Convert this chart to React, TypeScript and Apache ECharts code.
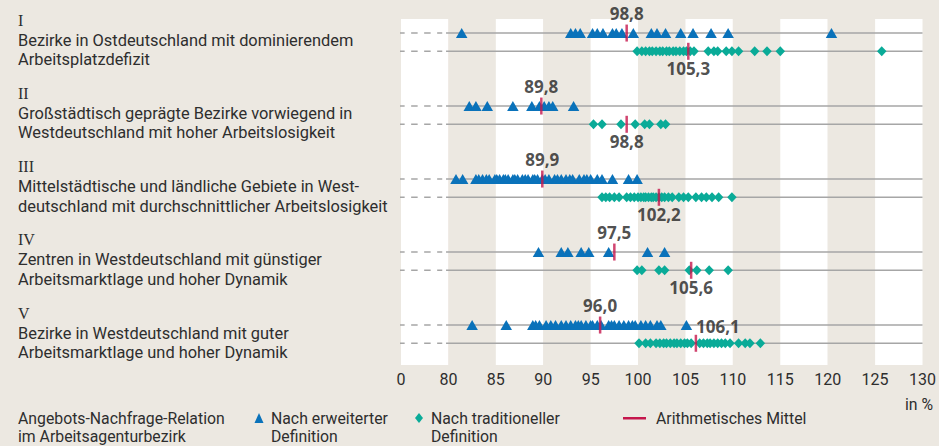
import React, { useEffect, useRef } from "react";
import * as echarts from "echarts";

// ---- data ----
const groupNumerals = ["I", "II", "III", "IV", "V"];
const groupLines = [
  ["Bezirke in Ostdeutschland mit dominierendem", "Arbeitsplatzdefizit"],
  ["Großstädtisch geprägte Bezirke vorwiegend in", "Westdeutschland mit hoher Arbeitslosigkeit"],
  ["Mittelstädtische und ländliche Gebiete in West-", "deutschland mit durchschnittlicher Arbeitslosigkeit"],
  ["Zentren in Westdeutschland mit günstiger", "Arbeitsmarktlage und hoher Dynamik"],
  ["Bezirke in Westdeutschland mit guter", "Arbeitsmarktlage und hoher Dynamik"],
];

// Nach erweiterter Definition (triangles)
const triI = [81.4, 92.9, 93.4, 93.9, 95.2, 95.7, 96.3, 97.3, 97.7, 98.3, 99.5, 101.4, 102.0, 102.9, 104.5, 105.8, 107.7, 109.5, 120.4];
const triII = [82.2, 82.9, 84.1, 86.8, 88.8, 89.6, 90.1, 90.6, 91.0, 93.2];
const triIII = [80.8, 81.5, 82.9, 83.2, 83.6, 84.0, 84.3, 84.9, 85.1, 85.4, 85.8, 86.0, 86.3, 86.8, 87.0, 87.3, 87.8, 88.1, 88.4, 88.9, 89.1, 89.4, 89.9, 90.2, 90.6, 91.2, 91.5, 91.9, 92.4, 92.8, 93.1, 93.8, 94.3, 94.6, 95.0, 95.7, 96.2, 97.3, 99.0, 99.9];
const triIV = [89.5, 91.9, 92.6, 94.0, 94.8, 96.9, 101.0, 102.8];
const triV = [82.5, 86.1, 88.9, 89.2, 89.6, 90.3, 90.8, 91.3, 91.9, 92.4, 92.9, 93.4, 93.7, 94.0, 94.5, 95.0, 95.2, 95.7, 96.1, 96.9, 97.2, 97.5, 98.0, 98.5, 99.0, 99.4, 99.7, 100.3, 100.8, 101.3, 102.0, 102.4, 105.1];

// Nach traditioneller Definition (diamonds)
const diaI = [99.9, 100.4, 100.8, 101.2, 101.5, 101.9, 102.3, 102.6, 103.0, 103.3, 103.7, 104.0, 104.4, 104.8, 105.1, 105.5, 105.9, 107.4, 108.0, 108.4, 109.3, 109.9, 110.6, 112.3, 113.6, 115.0, 125.7];
const diaII = [95.3, 96.2, 98.2, 99.7, 100.7, 101.2, 102.4, 102.9];
const diaIII = [96.2, 96.6, 97.0, 97.5, 98.0, 98.8, 99.2, 99.6, 100.0, 100.3, 100.6, 100.8, 101.1, 101.4, 101.6, 101.9, 102.2, 102.5, 102.8, 103.2, 103.6, 104.3, 104.8, 105.3, 106.1, 106.7, 107.2, 107.8, 108.5, 109.9];
const diaIV = [99.9, 100.4, 102.2, 102.8, 105.4, 106.2, 107.5, 109.5];
const diaV = [100.1, 100.8, 101.3, 101.9, 102.3, 102.7, 103.0, 103.4, 103.8, 104.1, 104.5, 104.9, 105.2, 105.6, 106.5, 106.9, 107.3, 107.6, 108.0, 108.4, 108.8, 109.2, 109.7, 110.6, 111.3, 111.8, 112.9];

// Arithmetisches Mittel
const triMeans = [98.8, 89.8, 89.9, 97.5, 96.0];
const diaMeans = [105.3, 98.8, 102.2, 105.6, 106.1];

// axis
const X_MIN = 75; // drawn as "0" (axis break)
const X_MAX = 130;
const X_STEP = 5;
const breakLabel = "0";
const unitLabel = "in %";

const legendTitle = ["Angebots-Nachfrage-Relation", "im Arbeitsagenturbezirk"];
const legendTri = ["Nach erweiterter", "Definition"];
const legendDia = ["Nach traditioneller", "Definition"];
const legendMean = "Arithmetisches Mittel";

const BG = "#ece8e1";
const TXT = "#2e2e2e";
const BLUE = "#0a72ba";
const TEAL = "#0aab98";
const RED = "#c5164c";
const GRAY = "#a6a6a6";
const FONT = "Roboto, 'Noto Sans', sans-serif";

export default function App() {
  const ref = useRef<HTMLDivElement>(null);
  useEffect(() => {
    document.body.style.margin = "0";
    const chart = echarts.init(ref.current!, undefined, { renderer: "svg" });
    const tris = [triI, triII, triIII, triIV, triV];
    const dias = [diaI, diaII, diaIII, diaIV, diaV];

    const series: any[] = [];
    for (let g = 0; g < 5; g++) {
      for (const row of [4 * g, 4 * g + 1]) {
        series.push({
          type: "line", silent: true, clip: false, symbol: "none", z: 1,
          data: [[79.75, row], [X_MAX, row]],
          lineStyle: { color: GRAY, width: 1.5 },
        });
        series.push({
          type: "line", silent: true, clip: false, symbol: "none", z: 1,
          data: [[74.7, row], [79.35, row]],
          lineStyle: { color: GRAY, width: 1.5, type: [6.5, 6.5] },
        });
      }
    }
    series.push({
      name: "Nach erweiterter Definition",
      type: "scatter", symbol: "triangle", symbolSize: [11.5, 10], z: 3,
      itemStyle: { color: BLUE, opacity: 1 },
      data: tris.flatMap((arr, g) => arr.map((v) => [v, 4 * g])),
    });
    series.push({
      name: "Nach traditioneller Definition",
      type: "scatter", symbol: "diamond", symbolSize: [9.5, 10], z: 3,
      itemStyle: { color: TEAL, opacity: 1 },
      data: dias.flatMap((arr, g) => arr.map((v) => [v, 4 * g + 1])),
    });
    const meanData: any[] = [];
    triMeans.forEach((m, g) =>
      meanData.push({ value: [m, 4 * g], label: { position: "top", distance: 3 } })
    );
    diaMeans.forEach((m, g) =>
      meanData.push({
        value: [m, 4 * g + 1],
        label: g === 4 ? { position: "top", distance: 0, offset: [22, 0] } : { position: "bottom", distance: 0 },
      })
    );
    series.push({
      name: "Arithmetisches Mittel",
      type: "scatter", symbol: "rect", symbolSize: [2.5, 17], z: 4,
      itemStyle: { color: RED },
      label: {
        show: true, color: "#222222", fontSize: 17, fontWeight: "bold",
        fontFamily: "'Noto Sans', sans-serif",
        formatter: (p: any) => p.value[0].toFixed(1).replace(".", ","),
      },
      data: meanData,
    });

    const graphic: any[] = [];
    const G = 73.25;
    for (let g = 0; g < 5; g++) {
      graphic.push({
        type: "text", x: 18, y: 20 + G * g,
        style: { text: groupNumerals[g], fill: TXT, font: "16px 'Liberation Serif', serif", verticalAlign: "middle", textVerticalAlign: "middle" },
      });
      groupLines[g].forEach((t, k) =>
        graphic.push({
          type: "text", x: 18, y: 40 + 19.5 * k + G * g,
          style: { text: t, fill: TXT, font: `16.4px ${FONT}`, verticalAlign: "middle", textVerticalAlign: "middle" },
        })
      );
    }
    const legendText = (lines: string[], x: number, y: number) => ({
      type: "text", x, y,
      style: {
        text: lines.join("\n"), fill: TXT, font: `15.8px ${FONT}`, lineHeight: 18,
        verticalAlign: "top", textVerticalAlign: "top",
      },
    });
    graphic.push(legendText(legendTitle, 18, 409));
    graphic.push({ type: "polygon", shape: { points: [[254.5, 423], [263.5, 423], [259, 413]] }, style: { fill: BLUE } });
    graphic.push(legendText(legendTri, 271, 409));
    graphic.push({ type: "polygon", shape: { points: [[419, 413], [423, 418], [419, 423], [415, 418]] }, style: { fill: TEAL } });
    graphic.push(legendText(legendDia, 431, 409));
    graphic.push({ type: "rect", shape: { x: 623, y: 417, width: 23, height: 2.5 }, style: { fill: RED } });
    graphic.push(legendText([legendMean], 656, 409));
    graphic.push(legendText([unitLabel], 905, 395));

    chart.setOption({
      animation: false,
      backgroundColor: BG,
      grid: { left: 401, width: 524, top: 19, height: 346 },
      xAxis: {
        type: "value", min: X_MIN, max: X_MAX, interval: X_STEP,
        axisLine: { show: false }, axisTick: { show: false }, splitLine: { show: false },
        splitArea: { show: true, areaStyle: { color: ["#ffffff", BG] } },
        axisLabel: {
          color: TXT, fontSize: 16, fontFamily: FONT, margin: 6,
          formatter: (v: number) => (v === X_MIN ? breakLabel : String(v)),
        },
      },
      yAxis: { type: "value", inverse: true, min: -0.77, max: 18.19, show: false },
      series,
      graphic,
    });
    return () => chart.dispose();
  }, []);
  return <div ref={ref} style={{ width: 939, height: 446 }} />;
}
